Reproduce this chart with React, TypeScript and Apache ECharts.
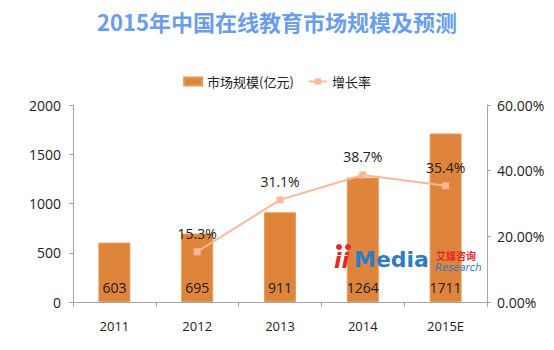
import React, { useEffect, useRef } from "react";
import * as echarts from "echarts";

const categories = ["2011", "2012", "2013", "2014", "2015E"];
const marketSize = [603, 695, 911, 1264, 1711];
const growthRate: (number | null)[] = [null, 15.3, 31.1, 38.7, 35.4];
const leftTicks = [0, 500, 1000, 1500, 2000];
const rightTicks = [0, 20, 40, 60];

const FONT = "'Open Sans', 'Noto Sans CJK SC', sans-serif";

export default function App() {
  const ref = useRef<HTMLDivElement>(null);
  useEffect(() => {
    if (!ref.current) return;
    const chart = echarts.init(ref.current, null, { renderer: "svg" });
    chart.setOption({
      animation: false,
      backgroundColor: "#ffffff",
      textStyle: { fontFamily: FONT },
      title: {
        text: "2015年中国在线教育市场规模及预测",
        left: "center",
        top: 5,
        textStyle: {
          color: "#6A9DEB",
          fontSize: 22,
          fontWeight: "bold",
          fontFamily: "'Noto Sans CJK SC', sans-serif",
        },
      },
      legend: {
        top: 70,
        left: "center",
        itemGap: 14,
        textStyle: { color: "#222", fontSize: 13, fontFamily: "'Noto Sans CJK SC', sans-serif" },
        data: [
          { name: "市场规模(亿元)", icon: "rect", itemStyle: { color: "#DE843B" } },
          { name: "增长率" },
        ],
        itemWidth: 18,
        itemHeight: 8,
      },
      grid: { left: 73, right: 67, top: 105, bottom: 48, containLabel: false },
      xAxis: {
        type: "category",
        data: categories,
        axisLine: { lineStyle: { color: "#A6A6A6" } },
        axisTick: { show: true, alignWithLabel: false, length: 5, lineStyle: { color: "#A6A6A6" } },
        axisLabel: { color: "#222", fontSize: 13, margin: 17, fontFamily: FONT },
      },
      yAxis: [
        {
          type: "value",
          min: leftTicks[0],
          max: leftTicks[leftTicks.length - 1],
          interval: 500,
          axisLine: { show: true, lineStyle: { color: "#A6A6A6" } },
          axisTick: { show: true, length: 4, lineStyle: { color: "#A6A6A6" } },
          splitLine: { show: false },
          axisLabel: {
            color: "#222",
            fontSize: 14,
            margin: 12,
            fontFamily: FONT,
            formatter: (v: number) => String(v),
          },
        },
        {
          type: "value",
          min: rightTicks[0],
          max: rightTicks[rightTicks.length - 1],
          interval: 20,
          position: "right",
          axisLine: { show: true, lineStyle: { color: "#A6A6A6" } },
          axisTick: { show: true, length: 4, lineStyle: { color: "#A6A6A6" } },
          splitLine: { show: false },
          axisLabel: {
            color: "#222",
            fontSize: 14,
            margin: 10,
            fontFamily: FONT,
            formatter: (v: number) => v.toFixed(2) + "%",
          },
        },
      ],
      series: [
        {
          name: "市场规模(亿元)",
          type: "bar",
          data: marketSize,
          barWidth: 32,
          itemStyle: { color: "#DE843B", borderColor: "#E89A5C", borderWidth: 1 },
          label: {
            show: true,
            position: "insideBottom",
            distance: 8,
            color: "#222",
            fontSize: 14,
            fontFamily: FONT,
          },
          z: 2,
        },
        {
          name: "增长率",
          type: "line",
          yAxisIndex: 1,
          data: growthRate,
          connectNulls: false,
          symbol: "rect",
          symbolSize: 7,
          lineStyle: { color: "#F9B996", width: 2 },
          itemStyle: { color: "#F9B996" },
          label: {
            show: true,
            position: "top",
            distance: 8,
            color: "#222",
            fontSize: 14,
            fontFamily: FONT,
            formatter: (p: any) => p.value.toFixed(1) + "%",
          },
          z: 3,
        },
      ],
      graphic: [
        {
          type: "group",
          left: 334,
          top: 244,
          z: 100,
          zlevel: 1,
          children: [
            { type: "circle", shape: { cx: 5, cy: 3, r: 3 }, style: { fill: "#E8262B" }, z: 100 },
            { type: "circle", shape: { cx: 14, cy: 3, r: 3 }, style: { fill: "#E8262B" }, z: 100 },
            {
              type: "text",
              x: 0,
              y: 5,
              z: 100,
              style: { text: "ii", fill: "#E8262B", font: "bold italic 22px 'DejaVu Sans', sans-serif" },
            },
            {
              type: "text",
              x: 20,
              y: 4,
              z: 100,
              style: { text: "Media", fill: "#2E7CC6", font: "bold 22px 'DejaVu Sans', sans-serif" },
            },
            {
              type: "text",
              x: 102,
              y: 6,
              z: 100,
              style: { text: "艾媒咨询", fill: "#E8262B", font: "bold 10px 'Noto Sans CJK SC', sans-serif" },
            },
            {
              type: "text",
              x: 101,
              y: 18,
              z: 100,
              style: { text: "Research", fill: "#2E7CC6", font: "italic 10px 'DejaVu Sans', sans-serif" },
            },
          ],
        },
      ],
    });
    return () => chart.dispose();
  }, []);
  return (
    <div
      ref={ref}
      style={{ position: "fixed", left: 0, top: 0, width: 554, height: 350 }}
    />
  );
}
